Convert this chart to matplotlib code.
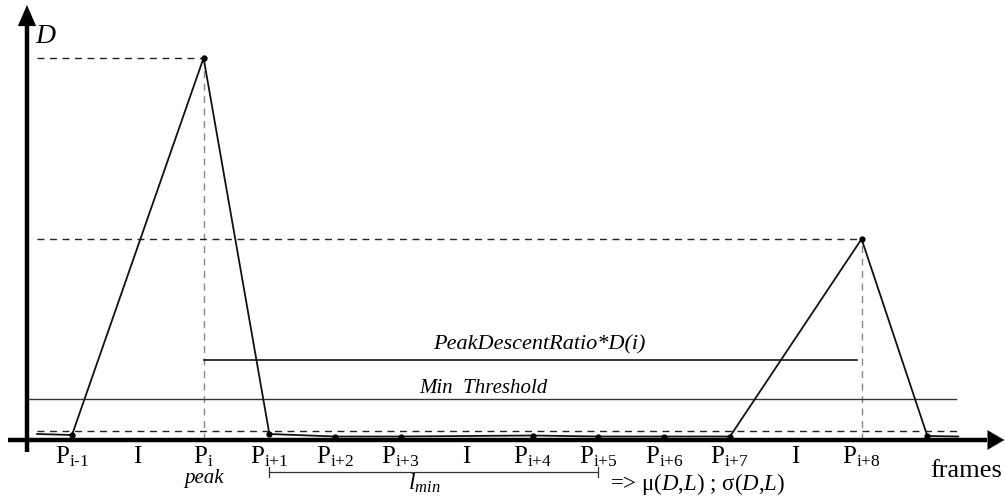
import numpy as np
import matplotlib.pyplot as plt

plt.rcParams['font.family'] = ['Liberation Serif', 'DejaVu Serif']
plt.rcParams['mathtext.fontset'] = 'custom'
plt.rcParams['mathtext.rm'] = 'Liberation Serif'
plt.rcParams['mathtext.it'] = 'Liberation Serif:italic'

## Curve data (frame index, D value)
frames = [-0.53, 0, 2, 3, 4, 5, 7, 8, 9, 10, 12, 13, 13.47]
D = [6, 5, 382, 6, 3.5, 3.5, 4.5, 3.5, 3.5, 3.5, 201, 4, 3.5]

## Labelled frames under the axis
label_pos = [0, 1, 2, 3, 4, 5, 6, 7, 8, 9, 10, 11, 12]
label_sub = ['i-1', None, 'i', 'i+1', 'i+2', 'i+3', None, 'i+4', 'i+5', 'i+6', 'i+7', None, 'i+8']

## Thresholds
peak_D = 382
peak_descent_ratio = 0.21
min_threshold = 41
noise_level = 9
peaks = [2, 12]
lmin_span = [3, 8]

fig = plt.figure(figsize=(10.05, 4.97), dpi=100)
ax = fig.add_axes([0, 0, 1, 1])
ax.set_xlim(-1.094, 14.18)
ax.set_ylim(-57, 440)
ax.axis('off')

x_axis0 = -0.684   # where the D axis sits
x_end = 13.47

# axes with arrows
ax.plot([-0.98, 13.9], [0, 0], color='black', lw=3.2, solid_capstyle='butt', zorder=3)
ax.annotate('', xy=(14.17, 0), xytext=(13.6, 0),
            arrowprops=dict(arrowstyle='-|>,head_length=1.2,head_width=0.7',
                            color='black', lw=0.1, shrinkA=0, shrinkB=0))
ax.plot([x_axis0, x_axis0], [-12, 420], color='black', lw=3.2, solid_capstyle='butt', zorder=3)
ax.annotate('', xy=(x_axis0, 435), xytext=(x_axis0, 395),
            arrowprops=dict(arrowstyle='-|>,head_length=1.5,head_width=0.65',
                            color='black', lw=0.1, shrinkA=0, shrinkB=0))

# dashed guide lines to peaks
for p in peaks:
    d = D[frames.index(p)]
    ax.plot([-0.53, p], [d, d], color='#222222', lw=1.0, ls=(0, (5, 4)))
    ax.plot([p, p], [0, d], color='#888888', lw=1.0, ls=(0, (5, 4)))
ax.plot([-0.53, x_end], [noise_level, noise_level], color='#222222', lw=1.0, ls=(0, (5, 4)))

# thresholds
ax.plot([-0.67, 13.44], [min_threshold, min_threshold], color='#333333', lw=1.0)
ax.plot([2, 11.93], [peak_descent_ratio * peak_D, peak_descent_ratio * peak_D], color='black', lw=1.1)
ax.text(7.11, 91, 'PeakDescentRatio*D(i)', fontsize=16, style='italic', ha='center', va='baseline')
ax.text(6.25, 47, 'Min  Threshold', fontsize=15, style='italic', ha='center', va='baseline')

# the D curve
ax.plot(frames, D, color='#111111', lw=1.3, zorder=4)
ax.plot(frames[1:-1], D[1:-1], 'o', color='black', ms=3.5, zorder=5)

# frame labels
for pos, sub in zip(label_pos, label_sub):
    if sub is None:
        ax.text(pos, -23, 'I', fontsize=18, ha='center', va='baseline')
    else:
        s = sub.replace('-', '\u2011').replace('+', '{+}')
        ax.text(pos, -23, r'$\mathrm{P}_{\mathrm{%s}}$' % s,
                fontsize=18, ha='center', va='baseline')
ax.text(2, -43, 'peak', fontsize=15, style='italic', ha='center', va='baseline')

# l_min bracket
ax.plot(lmin_span, [-32, -32], color='#333333', lw=0.9)
for x in lmin_span:
    ax.plot([x, x], [-27, -37], color='#333333', lw=0.9)
ax.text(5.35, -50, r'$l_{min}$', fontsize=17, ha='center', va='baseline')
ax.text(8.18, -50, r'=> $\mathrm{\mu}$($D$,$L$) ; $\mathrm{\sigma}$($D$,$L$)', fontsize=16.5, ha='left', va='baseline')

ax.text(13.04, -37, 'frames', fontsize=19, ha='left', va='baseline')
ax.text(-0.55, 397, 'D', fontsize=20, style='italic', ha='left', va='baseline')

fig.savefig('out.png', dpi=100)
